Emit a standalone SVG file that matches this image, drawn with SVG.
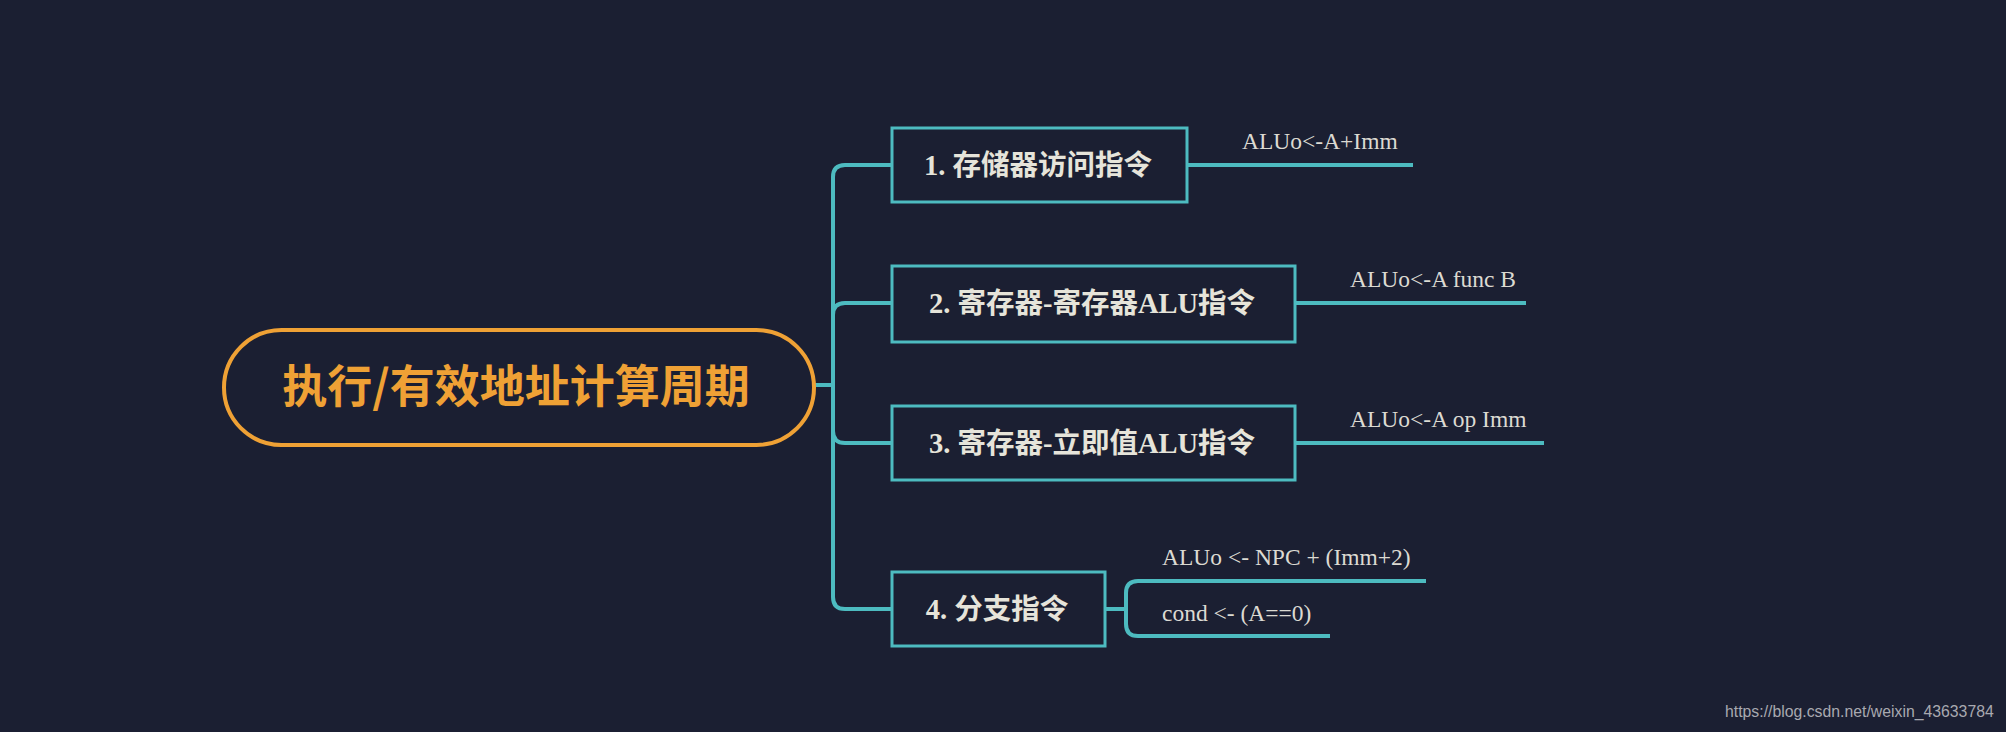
<svg xmlns="http://www.w3.org/2000/svg" width="2006" height="732" viewBox="0 0 2006 732">
<style>
.bg{fill:#1B1F32}
.ln{fill:none;stroke:#4DBBC0;stroke-width:4;stroke-linecap:butt}
.box{fill:#1B1F32;stroke:#4DBBC0;stroke-width:3}
.bt{font-family:"Liberation Serif","Noto Sans CJK SC",serif;font-weight:bold;font-size:28.5px;fill:#E6E4DA;text-anchor:middle}
.lt{font-family:"Liberation Serif","Noto Sans CJK SC",serif;font-size:23.5px;fill:#DCDAD2}
.rt{font-family:"Noto Sans CJK SC","Noto Sans",sans-serif;font-size:45px;font-weight:bold;fill:#EFA135;text-anchor:middle}
.wm{font-family:"Liberation Sans",sans-serif;font-size:15.8px;fill:#A8A9B0}
</style>
<rect class="bg" x="0" y="0" width="2006" height="732"/>
<g id="connectors">
<path class="ln" d="M814 385 H833"/>
<path class="ln" d="M833 385 V177 Q833 165 845 165 H892"/>
<path class="ln" d="M833 385 V315 Q833 303 845 303 H892"/>
<path class="ln" d="M833 385 V431 Q833 443 845 443 H892"/>
<path class="ln" d="M833 385 V597 Q833 609 845 609 H892"/>
<path class="ln" d="M1187 165 H1413"/>
<path class="ln" d="M1295 303 H1526"/>
<path class="ln" d="M1295 443 H1544"/>
<path class="ln" d="M1105 609 H1126"/>
<path class="ln" d="M1126 609 V593 Q1126 581 1138 581 H1426"/>
<path class="ln" d="M1126 609 V624 Q1126 636 1138 636 H1330"/>
</g>
<g id="root">
<rect x="224" y="330" width="590" height="115" rx="57.5" fill="#1B1F32" stroke="#EFA135" stroke-width="4"/>
<text class="rt" x="516" y="403">执行/有效地址计算周期</text>
</g>
<g id="n1">
<rect class="box" x="892" y="128" width="295" height="74"/>
<text class="bt" x="1038" y="175">1. 存储器访问指令</text>
</g>
<g id="n2">
<rect class="box" x="892" y="266" width="403" height="76"/>
<text class="bt" x="1092" y="313">2. 寄存器-寄存器ALU指令</text>
</g>
<g id="n3">
<rect class="box" x="892" y="406" width="403" height="74"/>
<text class="bt" x="1092" y="453">3. 寄存器-立即值ALU指令</text>
</g>
<g id="n4">
<rect class="box" x="892" y="572" width="213" height="74"/>
<text class="bt" x="997" y="619">4. 分支指令</text>
</g>
<g id="leaves">
<text class="lt" x="1242" y="149">ALUo&lt;-A+Imm</text>
<text class="lt" x="1350" y="287">ALUo&lt;-A func B</text>
<text class="lt" x="1350" y="427">ALUo&lt;-A op Imm</text>
<text class="lt" x="1162" y="565">ALUo &lt;- NPC + (Imm+2)</text>
<text class="lt" x="1162" y="621">cond &lt;- (A==0)</text>
</g>
<text class="wm" x="1725" y="717">https://blog.csdn.net/weixin_43633784</text>
</svg>
